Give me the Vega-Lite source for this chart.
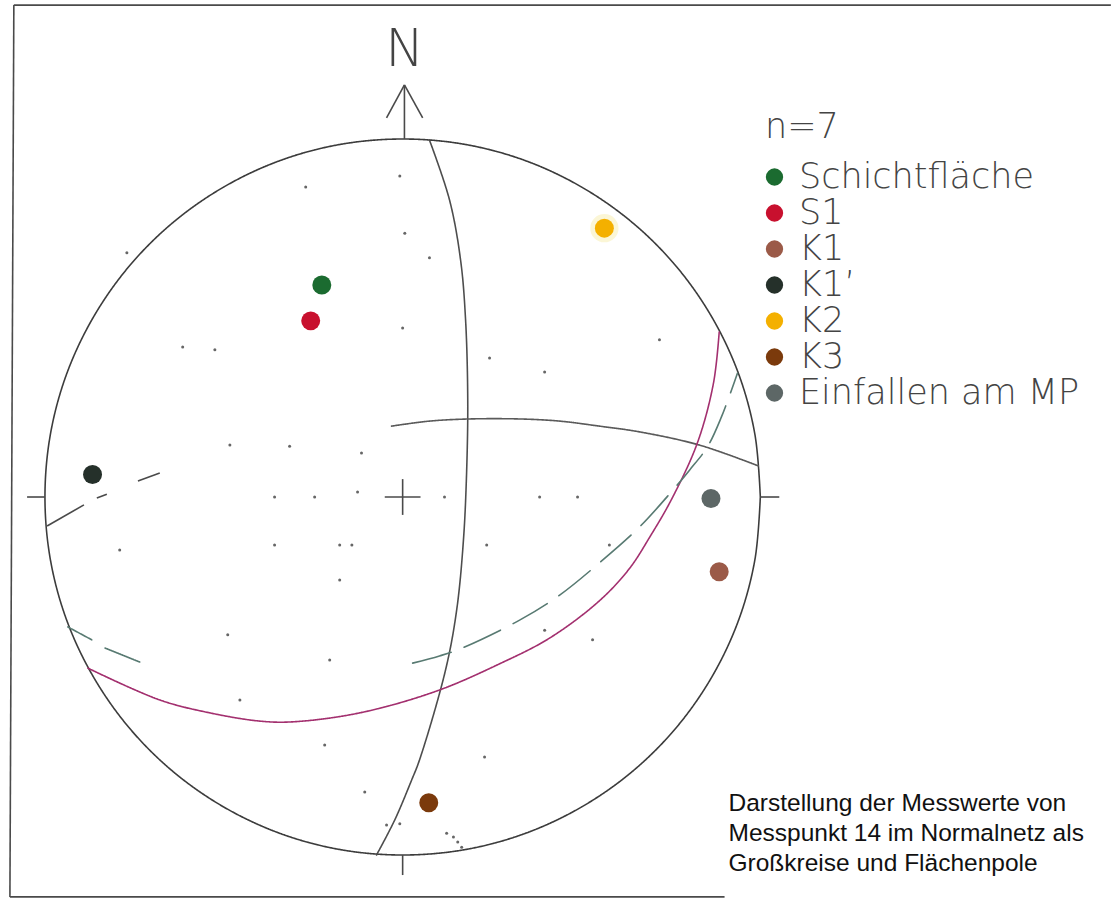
{
  "$schema": "https://vega.github.io/schema/vega-lite/v6.json",
  "width": 1112,
  "height": 899,
  "autosize": {"type": "fit", "contains": "padding"},
  "padding": 0,
  "background": "white",
  "config": {"view": {"stroke": null}},
  "datasets": {
    "kreise": [
      {"k": "Grundkreis", "i": 0, "x": 1, "y": 0},
      {"k": "Grundkreis", "i": 1, "x": 0.985, "y": 0.174},
      {"k": "Grundkreis", "i": 2, "x": 0.94, "y": 0.342},
      {"k": "Grundkreis", "i": 3, "x": 0.866, "y": 0.5},
      {"k": "Grundkreis", "i": 4, "x": 0.766, "y": 0.643},
      {"k": "Grundkreis", "i": 5, "x": 0.643, "y": 0.766},
      {"k": "Grundkreis", "i": 6, "x": 0.5, "y": 0.866},
      {"k": "Grundkreis", "i": 7, "x": 0.342, "y": 0.94},
      {"k": "Grundkreis", "i": 8, "x": 0.174, "y": 0.985},
      {"k": "Grundkreis", "i": 9, "x": 0, "y": 1},
      {"k": "Grundkreis", "i": 10, "x": -0.174, "y": 0.985},
      {"k": "Grundkreis", "i": 11, "x": -0.342, "y": 0.94},
      {"k": "Grundkreis", "i": 12, "x": -0.5, "y": 0.866},
      {"k": "Grundkreis", "i": 13, "x": -0.643, "y": 0.766},
      {"k": "Grundkreis", "i": 14, "x": -0.766, "y": 0.643},
      {"k": "Grundkreis", "i": 15, "x": -0.866, "y": 0.5},
      {"k": "Grundkreis", "i": 16, "x": -0.94, "y": 0.342},
      {"k": "Grundkreis", "i": 17, "x": -0.985, "y": 0.174},
      {"k": "Grundkreis", "i": 18, "x": -1, "y": 0},
      {"k": "Grundkreis", "i": 19, "x": -0.985, "y": -0.174},
      {"k": "Grundkreis", "i": 20, "x": -0.94, "y": -0.342},
      {"k": "Grundkreis", "i": 21, "x": -0.866, "y": -0.5},
      {"k": "Grundkreis", "i": 22, "x": -0.766, "y": -0.643},
      {"k": "Grundkreis", "i": 23, "x": -0.643, "y": -0.766},
      {"k": "Grundkreis", "i": 24, "x": -0.5, "y": -0.866},
      {"k": "Grundkreis", "i": 25, "x": -0.342, "y": -0.94},
      {"k": "Grundkreis", "i": 26, "x": -0.174, "y": -0.985},
      {"k": "Grundkreis", "i": 27, "x": 0, "y": -1},
      {"k": "Grundkreis", "i": 28, "x": 0.174, "y": -0.985},
      {"k": "Grundkreis", "i": 29, "x": 0.342, "y": -0.94},
      {"k": "Grundkreis", "i": 30, "x": 0.5, "y": -0.866},
      {"k": "Grundkreis", "i": 31, "x": 0.643, "y": -0.766},
      {"k": "Grundkreis", "i": 32, "x": 0.766, "y": -0.643},
      {"k": "Grundkreis", "i": 33, "x": 0.866, "y": -0.5},
      {"k": "Grundkreis", "i": 34, "x": 0.94, "y": -0.342},
      {"k": "Grundkreis", "i": 35, "x": 0.985, "y": -0.174},
      {"k": "Grundkreis", "i": 36, "x": 1, "y": 0},

      {"k": "GK1", "i": 0, "x": 0.075, "y": 0.997},
      {"k": "GK1", "i": 1, "x": 0.131, "y": 0.83},
      {"k": "GK1", "i": 2, "x": 0.162, "y": 0.662},
      {"k": "GK1", "i": 3, "x": 0.176, "y": 0.494},
      {"k": "GK1", "i": 4, "x": 0.182, "y": 0.271},
      {"k": "GK1", "i": 5, "x": 0.179, "y": 0.075},
      {"k": "GK1", "i": 6, "x": 0.17, "y": -0.12},
      {"k": "GK1", "i": 7, "x": 0.151, "y": -0.316},
      {"k": "GK1", "i": 8, "x": 0.12, "y": -0.483},
      {"k": "GK1", "i": 9, "x": 0.047, "y": -0.735},
      {"k": "GK1", "i": 10, "x": 0.025, "y": -0.791},
      {"k": "GK1", "i": 11, "x": -0.022, "y": -0.902},
      {"k": "GK1", "i": 12, "x": -0.073, "y": -1.0},

      {"k": "GK2", "i": 0, "x": -0.031, "y": 0.198},
      {"k": "GK2", "i": 1, "x": 0.075, "y": 0.212},
      {"k": "GK2", "i": 2, "x": 0.187, "y": 0.218},
      {"k": "GK2", "i": 3, "x": 0.327, "y": 0.218},
      {"k": "GK2", "i": 4, "x": 0.439, "y": 0.212},
      {"k": "GK2", "i": 5, "x": 0.55, "y": 0.198},
      {"k": "GK2", "i": 6, "x": 0.662, "y": 0.182},
      {"k": "GK2", "i": 7, "x": 0.83, "y": 0.145},
      {"k": "GK2", "i": 8, "x": 0.994, "y": 0.087},

      {"k": "GK3", "i": 0, "x": -0.88, "y": -0.478},
      {"k": "GK3", "i": 1, "x": -0.679, "y": -0.567},
      {"k": "GK3", "i": 2, "x": -0.539, "y": -0.603},
      {"k": "GK3", "i": 3, "x": -0.399, "y": -0.626},
      {"k": "GK3", "i": 4, "x": -0.307, "y": -0.628},
      {"k": "GK3", "i": 5, "x": -0.12, "y": -0.603},
      {"k": "GK3", "i": 6, "x": 0.095, "y": -0.542},
      {"k": "GK3", "i": 7, "x": 0.271, "y": -0.466},
      {"k": "GK3", "i": 8, "x": 0.411, "y": -0.394},
      {"k": "GK3", "i": 9, "x": 0.55, "y": -0.29},
      {"k": "GK3", "i": 10, "x": 0.634, "y": -0.2},
      {"k": "GK3", "i": 11, "x": 0.692, "y": -0.11},
      {"k": "GK3", "i": 12, "x": 0.751, "y": -0.008},
      {"k": "GK3", "i": 13, "x": 0.824, "y": 0.151},
      {"k": "GK3", "i": 14, "x": 0.869, "y": 0.318},
      {"k": "GK3", "i": 15, "x": 0.885, "y": 0.461},

      {"k": "GK4a", "i": 0, "x": -0.936, "y": -0.363},
      {"k": "GK4a", "i": 1, "x": -0.869, "y": -0.399},
      {"k": "GK4b", "i": 0, "x": -0.832, "y": -0.422},
      {"k": "GK4b", "i": 1, "x": -0.735, "y": -0.461},
      {"k": "GK4c", "i": 0, "x": 0.028, "y": -0.464},
      {"k": "GK4c", "i": 1, "x": 0.103, "y": -0.444},
      {"k": "GK4c", "i": 2, "x": 0.159, "y": -0.425},
      {"k": "GK4c", "i": 3, "x": 0.327, "y": -0.344},
      {"k": "GK4c", "i": 4, "x": 0.439, "y": -0.274},
      {"k": "GK4c", "i": 5, "x": 0.55, "y": -0.184},
      {"k": "GK4c", "i": 6, "x": 0.662, "y": -0.084},
      {"k": "GK4c", "i": 7, "x": 0.751, "y": 0.014},
      {"k": "GK4c", "i": 8, "x": 0.802, "y": 0.075},
      {"k": "GK4c", "i": 9, "x": 0.852, "y": 0.14},
      {"k": "GK4c", "i": 10, "x": 0.891, "y": 0.223},
      {"k": "GK4c", "i": 11, "x": 0.936, "y": 0.346}
    ],
    "linien": [
      {"teil": "Marke W", "x": -1.05, "y": 0, "x2": -1.0, "y2": 0},
      {"teil": "Marke O", "x": 1.0, "y": 0, "x2": 1.053, "y2": 0},
      {"teil": "Marke S", "x": 0, "y": -1.0, "x2": 0, "y2": -1.056},
      {"teil": "Nordpfeil", "x": 0.005, "y": 1.0, "x2": 0.005, "y2": 1.151},
      {"teil": "Pfeilspitze links", "x": -0.045, "y": 1.059, "x2": 0.005, "y2": 1.151},
      {"teil": "Pfeilspitze rechts", "x": 0.056, "y": 1.059, "x2": 0.005, "y2": 1.151},
      {"teil": "Mitte waagrecht", "x": -0.05, "y": 0, "x2": 0.05, "y2": 0},
      {"teil": "Mitte senkrecht", "x": 0, "y": -0.05, "x2": 0, "y2": 0.05},
      {"teil": "K1 Spur 1", "x": -0.994, "y": -0.081, "x2": -0.891, "y2": -0.022},
      {"teil": "K1 Spur 2", "x": -0.855, "y": -0.003, "x2": -0.827, "y2": 0.008},
      {"teil": "K1 Spur 3", "x": -0.74, "y": 0.045, "x2": -0.679, "y2": 0.067},
      {"teil": "Rahmen oben", "x": -1.087, "y": 1.374, "x2": 1.98, "y2": 1.374},
      {"teil": "Rahmen links", "x": -1.087, "y": 1.374, "x2": -1.098, "y2": -1.117},
      {"teil": "Rahmen unten", "x": -1.098, "y": -1.117, "x2": 0.9, "y2": -1.117}
    ],
    "netz": [
      {"x": -0.771, "y": 0.682}, {"x": -0.615, "y": 0.419}, {"x": -0.525, "y": 0.411},
      {"x": -0.271, "y": 0.866}, {"x": -0.008, "y": 0.897}, {"x": 0.006, "y": 0.737},
      {"x": 0.075, "y": 0.668}, {"x": 0.0, "y": 0.472}, {"x": 0.243, "y": 0.388},
      {"x": 0.397, "y": 0.349}, {"x": 0.718, "y": 0.439}, {"x": -0.483, "y": 0.145},
      {"x": -0.316, "y": 0.142}, {"x": -0.115, "y": 0.123}, {"x": -0.358, "y": 0},
      {"x": -0.246, "y": 0}, {"x": -0.126, "y": 0.014}, {"x": 0.117, "y": 0},
      {"x": 0.383, "y": 0}, {"x": 0.489, "y": 0}, {"x": -0.791, "y": -0.148},
      {"x": -0.358, "y": -0.134}, {"x": -0.176, "y": -0.134}, {"x": -0.142, "y": -0.134},
      {"x": 0.235, "y": -0.134}, {"x": 0.578, "y": -0.134}, {"x": -0.176, "y": -0.232},
      {"x": -0.204, "y": -0.455}, {"x": -0.489, "y": -0.385}, {"x": 0.397, "y": -0.372},
      {"x": 0.531, "y": -0.399}, {"x": -0.455, "y": -0.567}, {"x": -0.218, "y": -0.693},
      {"x": 0.229, "y": -0.726}, {"x": -0.106, "y": -0.824}, {"x": 0.123, "y": -0.939},
      {"x": 0.142, "y": -0.95}, {"x": 0.154, "y": -0.964}, {"x": 0.165, "y": -0.978},
      {"x": -0.045, "y": -0.916}, {"x": -0.008, "y": -0.913}
    ],
    "pole": [
      {"gefuege": "Schichtfläche", "x": -0.226, "y": 0.592},
      {"gefuege": "S1", "x": -0.257, "y": 0.492},
      {"gefuege": "K1", "x": 0.885, "y": -0.209},
      {"gefuege": "K1’", "x": -0.867, "y": 0.063},
      {"gefuege": "K2", "x": 0.564, "y": 0.751},
      {"gefuege": "K3", "x": 0.073, "y": -0.854},
      {"gefuege": "Einfallen am MP", "x": 0.862, "y": -0.004}
    ],
    "beschriftung": [
      {"nord": "N", "nx": 0.006, "ny": 1.204,
       "zeilen": ["Darstellung der Messwerte von", "Messpunkt 14 im Normalnetz als", "Großkreise und Flächenpole"],
       "tx": 0.911, "ty": -0.876}
    ]
  },
  "layer": [
    {
      "data": {"name": "kreise"},
      "mark": {"type": "line", "interpolate": "catmull-rom", "strokeCap": "round"},
      "encoding": {
        "x": {"field": "x", "type": "quantitative", "axis": null, "scale": {"domain": [-1.1257, 1.9804], "nice": false, "zero": false}},
        "y": {"field": "y", "type": "quantitative", "axis": null, "scale": {"domain": [-1.1229, 1.3883], "nice": false, "zero": false}},
        "detail": {"field": "k"},
        "order": {"field": "i", "type": "quantitative"},
        "stroke": {"field": "k", "type": "nominal", "legend": null,
          "scale": {"domain": ["Grundkreis", "GK1", "GK2", "GK3", "GK4a", "GK4b", "GK4c"],
                    "range": ["#3c3c3c", "#4d4d4d", "#5a5a5a", "#a3306f", "#587a72", "#587a72", "#587a72"]}},
        "strokeWidth": {"field": "k", "type": "nominal", "legend": null,
          "scale": {"domain": ["Grundkreis", "GK1", "GK2", "GK3", "GK4a", "GK4b", "GK4c"],
                    "range": [1.6, 1.6, 1.3, 1.6, 1.5, 1.5, 1.5]}},
        "strokeDash": {"field": "k", "type": "nominal", "legend": null,
          "scale": {"domain": ["Grundkreis", "GK1", "GK2", "GK3", "GK4a", "GK4b", "GK4c"],
                    "range": [[1, 0], [1, 0], [1, 0], [1, 0], [1, 0], [1, 0], [40, 14]]}}
      }
    },
    {
      "data": {"name": "linien"},
      "mark": {"type": "rule", "color": "#4a4a4a", "strokeWidth": 1.6},
      "encoding": {
        "x": {"field": "x", "type": "quantitative", "axis": null, "scale": {"domain": [-1.1257, 1.9804], "nice": false, "zero": false}},
        "y": {"field": "y", "type": "quantitative", "axis": null, "scale": {"domain": [-1.1229, 1.3883], "nice": false, "zero": false}},
        "x2": {"field": "x2"},
        "y2": {"field": "y2"}
      }
    },
    {
      "data": {"name": "netz"},
      "mark": {"type": "circle", "size": 9, "color": "#555555", "opacity": 0.9},
      "encoding": {
        "x": {"field": "x", "type": "quantitative", "axis": null, "scale": {"domain": [-1.1257, 1.9804], "nice": false, "zero": false}},
        "y": {"field": "y", "type": "quantitative", "axis": null, "scale": {"domain": [-1.1229, 1.3883], "nice": false, "zero": false}}
      }
    },
    {
      "data": {"name": "pole"},
      "transform": [{"filter": "datum.gefuege === 'K2'"}],
      "mark": {"type": "circle", "size": 800, "color": "#f3e68a", "opacity": 0.35},
      "encoding": {
        "x": {"field": "x", "type": "quantitative", "axis": null, "scale": {"domain": [-1.1257, 1.9804], "nice": false, "zero": false}},
        "y": {"field": "y", "type": "quantitative", "axis": null, "scale": {"domain": [-1.1229, 1.3883], "nice": false, "zero": false}}
      }
    },
    {
      "data": {"name": "pole"},
      "mark": {"type": "circle", "size": 360, "opacity": 1},
      "encoding": {
        "x": {"field": "x", "type": "quantitative", "axis": null, "scale": {"domain": [-1.1257, 1.9804], "nice": false, "zero": false}},
        "y": {"field": "y", "type": "quantitative", "axis": null, "scale": {"domain": [-1.1229, 1.3883], "nice": false, "zero": false}},
        "color": {
          "field": "gefuege", "type": "nominal",
          "scale": {
            "domain": ["Schichtfläche", "S1", "K1", "K1’", "K2", "K3", "Einfallen am MP"],
            "range": ["#1b6b30", "#c8102e", "#9b5a48", "#25302a", "#f4b000", "#7b3a0c", "#5d6766"]
          },
          "legend": {
            "title": "n=7",
            "orient": "none",
            "legendX": 765,
            "legendY": 110,
            "padding": 0,
            "titleFont": "DejaVu Sans",
            "titleFontSize": 35,
            "titleFontWeight": 200,
            "titleColor": "#444444",
            "titlePadding": 14.5,
            "labelFont": "DejaVu Sans",
            "labelFontSize": 35,
            "labelFontWeight": 200,
            "labelColor": "#444444",
            "labelLimit": 400,
            "labelOffset": 7,
            "symbolOffset": -8,
            "symbolType": "circle",
            "symbolSize": 300,
            "symbolStrokeWidth": 0,
            "symbolOpacity": 1,
            "rowPadding": -0.4
          }
        }
      }
    },
    {
      "data": {"name": "beschriftung"},
      "mark": {"type": "text", "font": "DejaVu Sans", "fontWeight": 200, "fontSize": 52, "color": "#444444", "align": "center", "baseline": "alphabetic"},
      "encoding": {
        "x": {"field": "nx", "type": "quantitative", "axis": null, "scale": {"domain": [-1.1257, 1.9804], "nice": false, "zero": false}},
        "y": {"field": "ny", "type": "quantitative", "axis": null, "scale": {"domain": [-1.1229, 1.3883], "nice": false, "zero": false}},
        "text": {"field": "nord"}
      }
    },
    {
      "data": {"name": "beschriftung"},
      "mark": {"type": "text", "font": "Liberation Sans", "fontSize": 24.5, "lineHeight": 30, "color": "#111111", "align": "left", "baseline": "alphabetic"},
      "encoding": {
        "x": {"field": "tx", "type": "quantitative", "axis": null, "scale": {"domain": [-1.1257, 1.9804], "nice": false, "zero": false}},
        "y": {"field": "ty", "type": "quantitative", "axis": null, "scale": {"domain": [-1.1229, 1.3883], "nice": false, "zero": false}},
        "text": {"field": "zeilen"}
      }
    }
  ]
}
